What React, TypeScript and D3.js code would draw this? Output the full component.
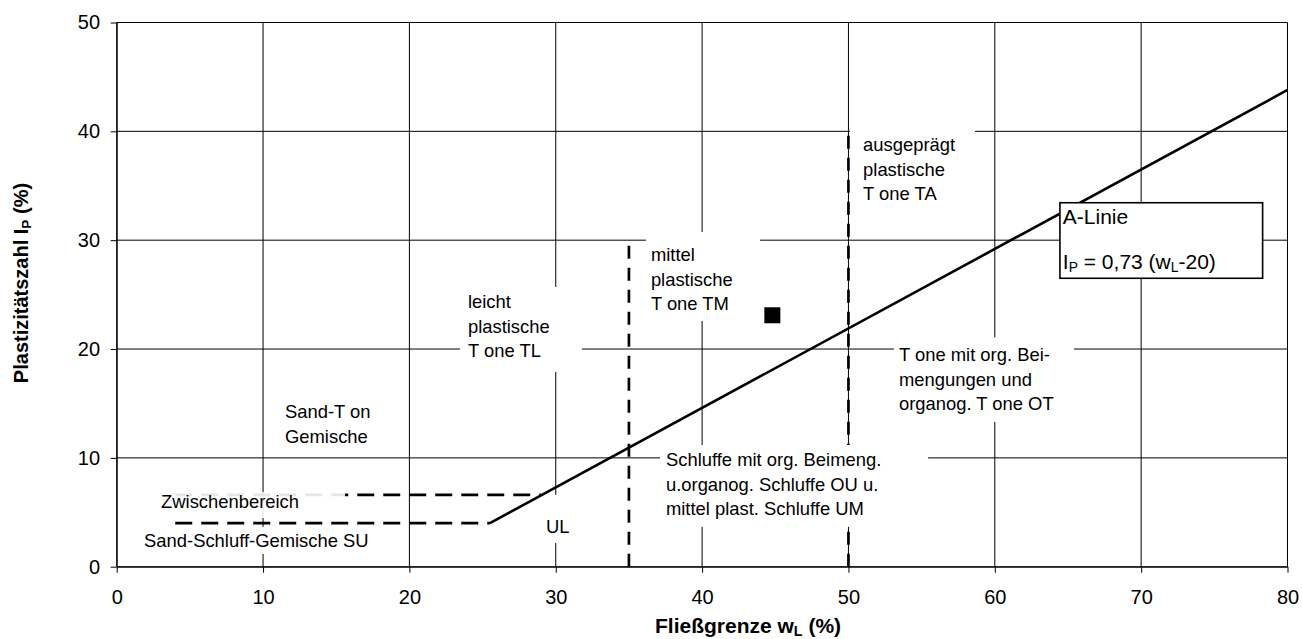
import React, { useEffect, useRef } from 'react';
import * as d3 from 'd3';

const xTicks = [0, 10, 20, 30, 40, 50, 60, 70, 80];
const yTicks = [0, 10, 20, 30, 40, 50];

// A-Linie: Ip = 0,73 (wL - 20)
const aLine = [
  { wl: 25.5, ip: 4.0 },
  { wl: 80, ip: 43.8 },
];
// Grenzen der Bereiche
const suLower = [
  { wl: 4, ip: 4 },
  { wl: 25.5, ip: 4 },
];
const suUpper = [
  { wl: 4, ip: 6.6 },
  { wl: 29, ip: 6.6 },
];
const borderTM = [
  { wl: 35, ip: 0 },
  { wl: 35, ip: 30 },
];
const borderTA = [
  { wl: 50, ip: 0 },
  { wl: 50, ip: 40 },
];
// Probe
const samples = [{ wl: 44.8, ip: 23.1 }];

const labelTA = ['ausgeprägt', 'plastische', 'T one TA'];
const labelTM = ['mittel', 'plastische', 'T one TM'];
const labelTL = ['leicht', 'plastische', 'T one TL'];
const labelST = ['Sand-T on', 'Gemische'];
const labelZW = ['Zwischenbereich'];
const labelSU = ['Sand-Schluff-Gemische SU'];
const labelUL = ['UL'];
const labelOU = ['Schluffe mit org. Beimeng.', 'u.organog. Schluffe OU u.', 'mittel plast. Schluffe UM'];
const labelOT = ['T one mit org. Bei-', 'mengungen und', 'organog. T one OT'];

const FONT = 'Liberation Sans, Arial, Helvetica, sans-serif';
const width = 1302;
const height = 639;

const App = () => {
  const xAxisRef = useRef<SVGGElement>(null);
  const yAxisRef = useRef<SVGGElement>(null);

  const x = d3.scaleLinear().domain([0, 80]).range([116.7, 1287.5]);
  const y = d3.scaleLinear().domain([0, 50]).range([566.7, 22.5]);

  const line = d3
    .line<{ wl: number; ip: number }>()
    .x((d) => x(d.wl))
    .y((d) => y(d.ip));

  useEffect(() => {
    const xAxis = d3.axisBottom(x).tickValues(xTicks).tickSize(6).tickSizeOuter(0).tickPadding(17);
    const yAxis = d3.axisLeft(y).tickValues(yTicks).tickSize(6).tickSizeOuter(0).tickPadding(10.7);

    const gx = d3.select(xAxisRef.current).call(xAxis as any);
    const gy = d3.select(yAxisRef.current).call(yAxis as any);

    [gx, gy].forEach((g) => {
      g.selectAll('text').attr('font-size', 20).attr('font-family', FONT).attr('fill', '#000');
      g.selectAll('line').attr('stroke', '#000');
      g.select('.domain').attr('stroke', '#000');
    });
  }, []);

  // Textfelder: Position (wL, Ip der ersten Zeile) und weißer Hintergrund
  const notes = [
    { lines: labelTA, at: [51.0, 38.75], box: [50.1, 58.65, 40.58, 33.23] },
    { lines: labelTM, at: [36.5, 28.64], box: [36.17, 43.96, 30.75, 22.57] },
    { lines: labelTL, at: [24.0, 24.32], box: [23.46, 31.79, 25.7, 17.89] },
    { lines: labelST, at: [11.5, 14.21], box: [11.15, 18.67, 15.78, 11.18] },
    { lines: labelZW, at: [3.03, 5.97], box: [2.61, 15.6, 6.85, 4.47], fade: 0.9 },
    { lines: labelSU, at: [1.87, 2.36], box: [1.46, 12.5, 3.65, 1.17] },
    { lines: labelUL, at: [29.33, 3.65], box: [28.92, 31.66, 6.6, 2.18] },
    { lines: labelOU, at: [37.53, 9.8], box: [37.12, 55.44, 11.18, 3.66] },
    { lines: labelOT, at: [53.45, 19.46], box: [53.11, 65.41, 21.07, 13.3] },
  ];

  return (
    <svg
      width={width}
      height={height}
      style={{ position: 'absolute', left: 0, top: 0, background: '#fff' }}
      fontFamily={FONT}
    >
      {/* Gitter */}
      <g className="grid" stroke="#000" strokeWidth={1}>
        {xTicks.map((t) => (
          <line key={'gx' + t} x1={x(t)} x2={x(t)} y1={y(0)} y2={y(50)} />
        ))}
        {yTicks.map((t) => (
          <line key={'gy' + t} x1={x(0)} x2={x(80)} y1={y(t)} y2={y(t)} />
        ))}
      </g>

      <g ref={xAxisRef} className="x-axis" transform={`translate(0, ${y(0)})`} />
      <g ref={yAxisRef} className="y-axis" transform={`translate(${x(0)}, 0)`} />

      {/* Grenzlinien */}
      <g fill="none" stroke="#000" strokeWidth={2.7}>
        <path d={line(suUpper) || ''} strokeDasharray="17,9" />
        <path d={line(suLower) || ''} strokeDasharray="17,9" />
        <path d={line(borderTM) || ''} strokeDasharray="13,9" />
        <path d={line(borderTA) || ''} strokeDasharray="13,9" />
      </g>

      {/* Beschriftungen */}
      {notes.map((n, i) => (
        <g key={'n' + i}>
          <rect
            x={x(n.box[0])}
            y={y(n.box[2])}
            width={x(n.box[1]) - x(n.box[0])}
            height={y(n.box[3]) - y(n.box[2])}
            fill="#fff"
            fillOpacity={n.fade ?? 1}
          />
          <text x={x(n.at[0])} y={y(n.at[1])} fontSize={18.4} fill="#000">
            {n.lines.map((l, j) => (
              <tspan key={j} x={x(n.at[0])} dy={j === 0 ? '0.35em' : 24.5}>
                {l}
              </tspan>
            ))}
          </text>
        </g>
      ))}

      {/* A-Linie */}
      <path d={line(aLine) || ''} fill="none" stroke="#000" strokeWidth={2.6} />

      <g>
        <rect
          x={x(64.45)}
          y={y(33.44)}
          width={x(78.3) - x(64.45)}
          height={y(26.5) - y(33.44)}
          fill="#fff"
          stroke="#000"
          strokeWidth={1.6}
        />
        <text x={x(64.65)} y={y(32.16)} dy="0.35em" fontSize={21}>
          A-Linie
        </text>
        <text x={x(64.65)} y={y(28.02)} dy="0.35em" fontSize={21}>
          I
          <tspan fontSize="0.66em" dy={3}>P</tspan>
          <tspan dy={-3}> = 0,73 (w</tspan>
          <tspan fontSize="0.66em" dy={3}>L</tspan>
          <tspan dy={-3}>-20)</tspan>
        </text>
      </g>

      {/* Probe */}
      {samples.map((d, i) => (
        <rect key={'s' + i} x={x(d.wl) - 8} y={y(d.ip) - 8} width={16} height={16} fill="#000" />
      ))}

      {/* Achsentitel */}
      <text x={655} y={633} fontSize={21} fontWeight="bold">
        Fließgrenze w
        <tspan fontSize="0.68em" dy={3}>L</tspan>
        <tspan dy={-3}> (%)</tspan>
      </text>
      <text transform="translate(28, 283) rotate(-90)" textAnchor="middle" fontSize={20} fontWeight="bold">
        Plastizitätszahl I
        <tspan fontSize="0.68em" dy={3}>P</tspan>
        <tspan dy={-3}> (%)</tspan>
      </text>
    </svg>
  );
};

export default App;
